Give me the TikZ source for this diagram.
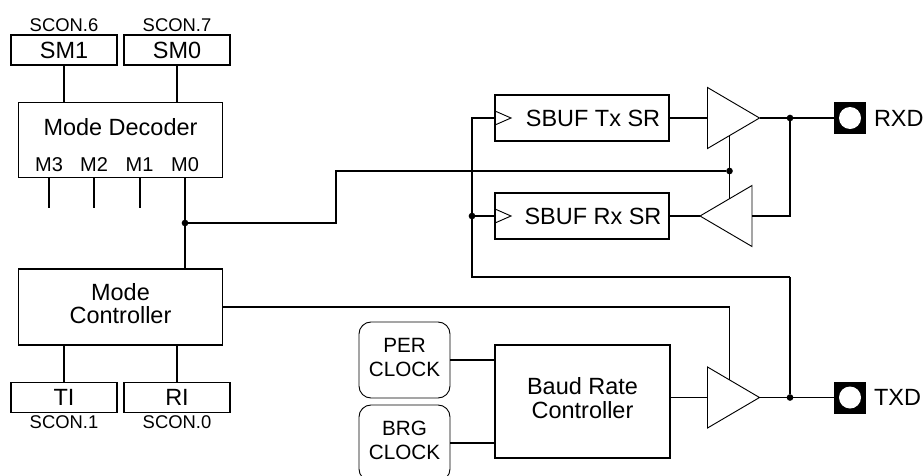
\documentclass[tikz,border=0pt]{standalone}
\usepackage{fontspec}
\setmainfont{Liberation Sans}
\usetikzlibrary{positioning,shapes.geometric}

\begin{document}
\begin{tikzpicture}[
x=0.75pt, y=-0.75pt,
every node/.style={outer sep=0pt},
regbox/.style={draw, line width=1.3pt, minimum width=79.5pt, minimum height=22.5pt, inner sep=0pt, font=\fontsize{17.6pt}{17.6pt}\selectfont},
ctrlbox/.style={draw, line width=1.3pt, minimum width=153pt, minimum height=57pt, inner sep=0pt},
srbox/.style={draw, line width=1.3pt, minimum width=130.5pt, minimum height=34.5pt, inner sep=0pt, font=\fontsize{17.6pt}{17.6pt}\selectfont},
clkbox/.style={draw, line width=0.7pt, rounded corners=9pt, minimum width=68.25pt, minimum height=57pt, inner sep=0pt},
sconlabel/.style={inner sep=0pt, font=\fontsize{13.8pt}{13.8pt}\selectfont},
modelabel/.style={inner sep=0pt, font=\fontsize{15pt}{15pt}\selectfont},
pinlabel/.style={inner sep=0pt, align=center, font=\fontsize{17.6pt}{17.6pt}\selectfont},
clklabel/.style={inner sep=0pt, align=center, font=\fontsize{15.5pt}{18pt}\selectfont},
bufdrv/.style={draw, line width=0.7pt, isosceles triangle, isosceles triangle stretches, minimum width=45.75pt, minimum height=39pt, inner sep=0pt},
clktri/.style={draw, line width=0.7pt, isosceles triangle, isosceles triangle stretches, minimum width=10.5pt, minimum height=12pt, inner sep=0pt, anchor=lower side},
pad/.style={fill=black, minimum size=24pt, inner sep=0pt},
padhole/.style={circle, fill=white, minimum size=16.5pt, inner sep=0pt},
dot/.style={circle, fill=black, minimum size=5pt, inner sep=0pt},
wire/.style={line width=1.25pt}
]
\clip (0,0) rectangle (924,475);

\node[regbox] (sm1) at (64,50) {SM1};
\node[regbox, right=5.25pt of sm1] (sm0) {SM0};
\node[sconlabel, above=2.6pt of sm1] (scon6) {SCON.6};
\node[sconlabel, above=2.6pt of sm0] (scon7) {SCON.7};

\node[ctrlbox, minimum height=56.25pt] (decoder) at (120.5,140) {};
\node[pinlabel] (decodertext) at (120.5,126.8) {Mode Decoder};
\node[modelabel] (m3) at (49,164.6) {M3};
\node[modelabel] (m2) at (94,164.6) {M2};
\node[modelabel] (m1) at (139.5,164.6) {M1};
\node[modelabel] (m0) at (185,164.6) {M0};

\node[ctrlbox, below=68.6pt of decoder] (controller) {};
\node[pinlabel] (controllertext) at ([yshift=2.6pt]controller) {Mode\\Controller};
\node[regbox] (ti) at (64,397.5) {TI};
\node[regbox, right=5.25pt of ti] (ri) {RI};
\node[sconlabel, below=2.5pt of ti] (scon1) {SCON.1};
\node[sconlabel, below=2.5pt of ri] (scon0) {SCON.0};

\node[srbox] (txsr) at (582,118) {\hspace*{16.5pt}SBUF Tx SR};
\node[srbox, below=39pt of txsr] (rxsr) {\hspace*{16.5pt}SBUF Rx SR};
\node[clktri] (txclk) at (txsr.west) {};
\node[clktri] (rxclk) at (rxsr.west) {};

\node[bufdrv, anchor=apex] (txbuf) at (759.5,118) {};
\node[bufdrv, shape border rotate=180, anchor=apex] (rxbuf) at (700,216) {};
\node[bufdrv, anchor=apex] (txdrv) at (759.5,397.5) {};

\node[clkbox] (per) at (404.5,360) {};
\node[clklabel] (pertext) at ([yshift=2pt]per) {PER\\CLOCK};
\node[clkbox, below=5.25pt of per] (brg) {};
\node[clklabel] (brgtext) at ([yshift=2pt]brg) {BRG\\CLOCK};
\node[ctrlbox, minimum width=131.25pt, minimum height=84.75pt] (baud) at (582.5,401.5) {};
\node[pinlabel] (baudtext) at ([yshift=2.6pt]baud) {Baud Rate\\Controller};

\node[pad] (rxd) at (850,118) {};
\node[padhole] (rxdhole) at (rxd) {};
\node[pinlabel, right=6pt of rxd] (rxdtext) {RXD};
\node[pad] (txd) at (850,397.5) {};
\node[padhole] (txdhole) at (txd) {};
\node[pinlabel, right=6pt of txd] (txdtext) {TXD};

\node[dot] (m0dot) at (185,223) {};
\node[dot] (endot) at (729.5,171) {};
\node[dot] (rxddot) at (790,118) {};
\node[dot] (txddot) at (790,397.5) {};
\node[dot] (clkdot) at (472,216) {};

\coordinate (m3end) at (49,208);
\coordinate (m2end) at (94,208);
\coordinate (m1end) at (140,208);
\coordinate (enbend) at (336,171);
\coordinate (entx) at (729.5,135);
\coordinate (enrx) at (729.5,199);
\coordinate (endrv) at (729.5,380);
\coordinate (clktop) at (472,118);
\coordinate (clkbot) at (472,277);
\coordinate (rxback) at (790,216);
\coordinate (txclkend) at (790,277);

\draw[wire] (sm1) -- (sm1 |- decoder.north);
\draw[wire] (sm0) -- (sm0 |- decoder.north);
\draw[wire] (decoder.south -| m3end) -- (m3end);
\draw[wire] (decoder.south -| m2end) -- (m2end);
\draw[wire] (decoder.south -| m1end) -- (m1end);
\draw[wire] (decoder.south -| m0dot) -- (m0dot);
\draw[wire] (m0dot) -- (controller.north -| m0dot);
\draw[wire] (m0dot) -| (enbend) -- (endot);
\draw[wire] (entx) -- (endot);
\draw[wire] (endot) -- (enrx);
\draw[wire] (controller.south -| ti) -- (ti);
\draw[wire] (controller.south -| ri) -- (ri);
\draw[wire] (controller.east) -| (endrv);
\draw[wire] (txclk.lower side) -- (clktop) -- (clkdot);
\draw[wire] (clkdot) -- (rxclk.lower side);
\draw[wire] (clkdot) -- (clkbot) -- (txclkend);
\draw[wire] (txclkend) -- (txddot);
\draw[wire] (txsr.east) -- (txbuf.lower side);
\draw[wire] (txbuf.apex) -- (rxddot);
\draw[wire] (rxddot) -- (rxd);
\draw[wire] (rxddot) -- (rxback) -- (rxbuf.lower side);
\draw[wire] (rxbuf.apex) -- (rxsr.east);
\draw[wire] (per.east) -- (per.east -| baud.west);
\draw[wire] (brg.east) -- (brg.east -| baud.west);
\draw[wire] (txdrv.lower side -| baud.east) -- (txdrv.lower side);
\draw[wire] (txdrv.apex) -- (txddot);
\draw[wire] (txddot) -- (txd);
\end{tikzpicture}
\end{document}
